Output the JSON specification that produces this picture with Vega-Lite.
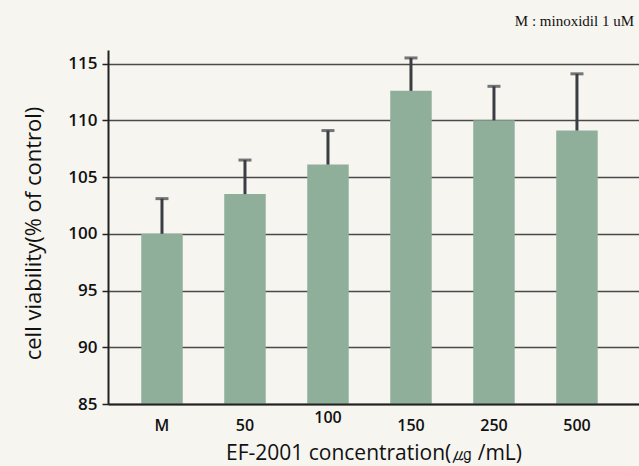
{
  "$schema": "https://vega.github.io/schema/vega-lite/v6.json",
  "width": 531,
  "height": 354,
  "autosize": {"type": "none"},
  "padding": {"left": 108, "top": 50, "right": 0, "bottom": 62},
  "background": "#f6f5f0",
  "config": {"view": {"stroke": null}},
  "title": {
    "text": "M : minoxidil 1 uM",
    "anchor": "end",
    "font": "Liberation Serif",
    "fontSize": 15,
    "fontWeight": "normal",
    "color": "#111111",
    "offset": 21,
    "dx": -5
  },
  "data": {
    "values": [
      {"group": "M", "value": 100.0, "upper": 103.1},
      {"group": "50", "value": 103.5, "upper": 106.5},
      {"group": "100", "value": 106.1, "upper": 109.1},
      {"group": "150", "value": 112.6, "upper": 115.5},
      {"group": "250", "value": 110.0, "upper": 113.0},
      {"group": "500", "value": 109.1, "upper": 114.1}
    ]
  },
  "encoding": {
    "x": {
      "field": "group",
      "type": "nominal",
      "sort": null,
      "scale": {"paddingInner": 0.5, "paddingOuter": 0.449, "align": 0.446},
      "axis": {
        "title": "EF-2001 concentration(㎍ /mL)",
        "titleFont": "Open Sans",
        "titleFontSize": 21,
        "titleFontWeight": "normal",
        "titleColor": "#111111",
        "titlePadding": 9,
        "labelAngle": 0,
        "labelFont": "Open Sans",
        "labelFontSize": 16,
        "labelFontWeight": 600,
        "labelColor": "#111111",
        "labelPadding": {"condition": {"test": "datum.value === '100'", "value": 5}, "value": 13},
        "ticks": false,
        "domainColor": "#222222",
        "domainWidth": 2,
        "grid": false,
        "zindex": 1
      }
    }
  },
  "layer": [
    {
      "mark": {"type": "bar", "color": "#90af9b"},
      "encoding": {
        "y": {
          "field": "value",
          "type": "quantitative",
          "scale": {"domain": [85, 116.2], "nice": false, "zero": false},
          "axis": {
            "title": "cell viability(% of control)",
            "titleFont": "Open Sans",
            "titleFontSize": 22,
            "titleFontWeight": "normal",
            "titleColor": "#111111",
            "titlePadding": 22,
            "titleY": 183,
            "values": [85, 90, 95, 100, 105, 110, 115],
            "labelFont": "Open Sans",
            "labelFontSize": 17,
            "labelFontWeight": 600,
            "labelColor": "#111111",
            "labelPadding": 5,
            "tickSize": 6,
            "tickColor": "#222222",
            "tickWidth": 1.5,
            "domainColor": "#222222",
            "domainWidth": 2,
            "grid": true,
            "gridColor": "#4a4a4a",
            "gridWidth": 1.5,
            "gridOpacity": 1,
            "zindex": 0
          }
        },
        "y2": {"datum": 85}
      }
    },
    {
      "mark": {"type": "rule", "color": "#3a3d42", "strokeWidth": 3},
      "encoding": {
        "y": {"field": "value", "type": "quantitative"},
        "y2": {"field": "upper"}
      }
    },
    {
      "mark": {"type": "tick", "color": "#3a3d42", "thickness": 3, "size": 13, "orient": "horizontal"},
      "encoding": {
        "y": {"field": "upper", "type": "quantitative"}
      }
    }
  ]
}
